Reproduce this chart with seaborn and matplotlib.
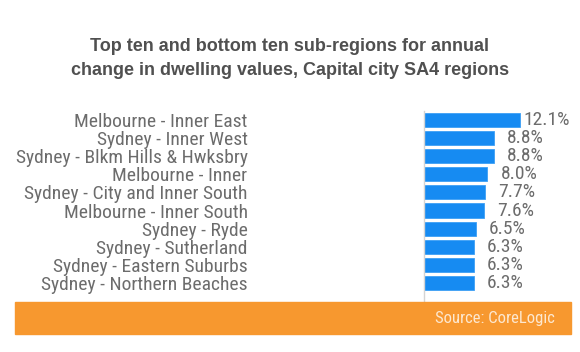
import matplotlib
matplotlib.use("Agg")
import matplotlib.pyplot as plt
import seaborn as sns
import pandas as pd
from matplotlib.patches import Rectangle

# data
regions = [
    "Melbourne - Inner East", "Sydney - Inner West", "Sydney - Blkm Hills & Hwksbry",
    "Melbourne - Inner", "Sydney - City and Inner South", "Melbourne - Inner South",
    "Sydney - Ryde", "Sydney - Sutherland", "Sydney - Eastern Suburbs",
    "Sydney - Northern Beaches",
]
change_pct = [12.1, 8.8, 8.8, 8.0, 7.7, 7.6, 6.5, 6.3, 6.3, 6.3]
title = "Top ten and bottom ten sub-regions for annual\nchange in dwelling values, Capital city SA4 regions"
source = "Source: CoreLogic"

df = pd.DataFrame({"region": regions, "change": change_pct})

sns.set_theme(style="white")
narrow = ["Roboto Condensed", "DejaVu Sans"]
grey = "#6c6c6c"

fig = plt.figure(figsize=(5.8, 3.52), dpi=100)
ax = fig.add_axes([0.731, 0.142, 0.246, 0.543])

sns.barplot(data=df, x="change", y="region", color="#168bf2", saturation=1,
            width=0.78, edgecolor="#3d9ff5", linewidth=0.6, ax=ax)

ax.set_xlim(0, 18)
ax.set_ylim(10.05, -0.5)
ax.set_xlabel("")
ax.set_ylabel("")
ax.set_xticks([])
for s in ["top", "right", "bottom"]:
    ax.spines[s].set_visible(False)
ax.spines["left"].set_color("#d4d4d4")
ax.spines["left"].set_linewidth(1)

ax.tick_params(axis="y", length=0, pad=127)
for lab in ax.get_yticklabels():
    lab.set_fontfamily(narrow)
    lab.set_fontsize(14)
    lab.set_color(grey)
    lab.set_horizontalalignment("right")

for i, v in enumerate(change_pct):
    ax.annotate(f"{v:.1f}%", (v, i), xytext=(50, 0), textcoords="offset pixels",
                ha="right", va="center", fontsize=14, color=grey,
                fontfamily=narrow)

fig.text(0.5, 0.835, title, ha="center", va="center", fontsize=13,
         fontweight="bold", color="#505050", family=["Liberation Sans", "DejaVu Sans"],
         linespacing=1.55)

# orange source band
fig.patches.append(Rectangle((15 / 580, 1 - 334 / 352), 556 / 580, 32 / 352,
                             transform=fig.transFigure, color="#f7982f", zorder=0))
fig.text(555 / 580, 1 - 318 / 352, source, ha="right", va="center",
         fontsize=12, color="#fde8d0", fontfamily=narrow)

fig.savefig("out.png", dpi=100)
